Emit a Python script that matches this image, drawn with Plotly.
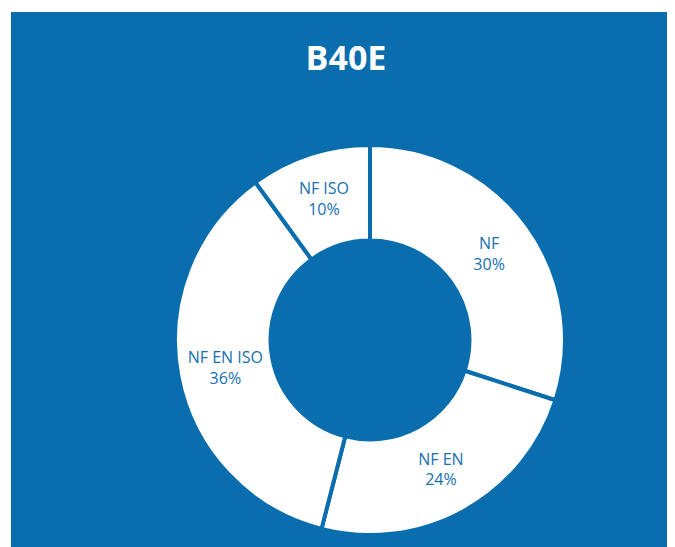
import plotly.graph_objects as go

labels = ["NF", "NF EN", "NF EN ISO", "NF ISO"]
values = [30, 24, 36, 10]
title_text = "B40E"

BLUE = "#0a6eae"
OFF = 8  # default page body margin
W, H = 675 - OFF, 547 - OFF
ml, mt = 11 - OFF, 12 - OFF
pw, ph = W - ml, H - mt

cx, cy, r = 370 - OFF, 340 - OFF, 195
dom_x = [(cx - r - ml) / pw, (cx + r - ml) / pw]
dom_y = [1 - (cy + r - mt) / ph, 1 - (cy - r - mt) / ph]

fig = go.Figure(go.Pie(
    labels=labels,
    values=values,
    hole=0.51,
    sort=False,
    direction="clockwise",
    rotation=0,
    texttemplate="%{label}<br>%{value}%",
    textposition="inside",
    insidetextorientation="horizontal",
    textfont=dict(family="Open Sans", size=16, color="#1570b0"),
    marker=dict(colors=["white"] * len(values), line=dict(color=BLUE, width=4)),
    domain=dict(x=dom_x, y=dom_y),
    showlegend=False,
    hoverinfo="label+percent",
))

# white strips at left and top (outside the blue panel)
fig.add_shape(type="rect", xref="paper", yref="paper",
              x0=-ml / pw - 0.05, x1=0, y0=-0.05, y1=1 + mt / ph + 0.05,
              fillcolor="white", line=dict(width=0), layer="below")
fig.add_shape(type="rect", xref="paper", yref="paper",
              x0=-ml / pw - 0.05, x1=1.05, y0=1, y1=1 + mt / ph + 0.05,
              fillcolor="white", line=dict(width=0), layer="below")

fig.update_layout(
    width=W, height=H,
    margin=dict(l=ml, t=mt, r=0, b=0),
    paper_bgcolor=BLUE,
    plot_bgcolor=BLUE,
    title=dict(text="<b>" + title_text + "</b>", x=(346 - OFF) / W, xanchor="center",
               y=1 - (58 - OFF) / H, yanchor="middle",
               font=dict(family="Open Sans", size=34, color="white")),
)

fig.write_html("out.html", config={"displayModeBar": False})
